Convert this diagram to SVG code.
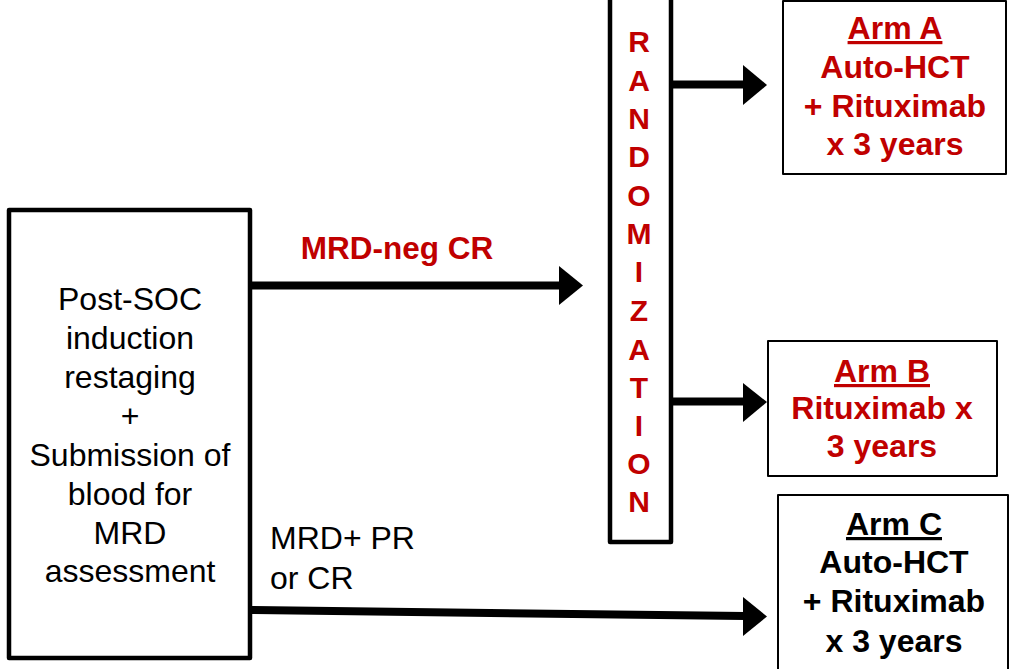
<svg xmlns="http://www.w3.org/2000/svg" width="1010" height="669" viewBox="0 0 1010 669">
<style>
.box{fill:#fff;stroke:#000;stroke-linejoin:round}
.thick{stroke-width:4.5}
.thin{stroke-width:2}
.t{font-family:"Liberation Sans",Arial,sans-serif;text-anchor:middle}
.n{font-size:32px;fill:#000}
.b{font-size:32px;font-weight:bold}
.red{fill:#C00000}
.blk{fill:#000}
.u{text-decoration:underline}
.shaft{stroke:#000;stroke-width:8;fill:none}
.head{fill:#000}
.rl{font-family:"Liberation Sans",Arial,sans-serif;font-size:30px;font-weight:bold;fill:#C00000;text-anchor:middle}
</style>
<rect width="1010" height="669" fill="#fff"/>
<g id="connectors">
<line class="shaft" x1="250" y1="285.5" x2="561" y2="285.5"/>
<polygon class="head" points="559,266 583,285.5 559,305"/>
<line class="shaft" x1="671" y1="84.5" x2="745" y2="84.5"/>
<polygon class="head" points="743,65 767,85 743,105"/>
<line class="shaft" x1="671" y1="401.5" x2="745" y2="401.5"/>
<polygon class="head" points="743,383 767,402 743,422"/>
<line class="shaft" x1="250" y1="610" x2="745" y2="616"/>
<polygon class="head" points="743,597 767,616.5 743,636"/>
</g>
<g id="label-mrdneg">
<text class="t b red" x="397" y="259" style="font-size:31.5px">MRD-neg CR</text>
</g>
<g id="label-mrdpos">
<text class="n" x="270" y="549" font-family="Liberation Sans, Arial, sans-serif">MRD+ PR</text>
<text class="n" x="270" y="589" font-family="Liberation Sans, Arial, sans-serif">or CR</text>
</g>
<g id="node-start">
<rect class="box thick" x="9" y="210" width="241" height="448"/>
<text class="t n" x="130" y="310">Post-SOC</text>
<text class="t n" x="130" y="349">induction</text>
<text class="t n" x="130" y="388">restaging</text>
<text class="t n" x="130" y="427">+</text>
<text class="t n" x="130" y="466">Submission of</text>
<text class="t n" x="130" y="505">blood for</text>
<text class="t n" x="130" y="544">MRD</text>
<text class="t n" x="130" y="582">assessment</text>
</g>
<g id="node-randomization">
<rect class="box thick" x="610" y="-10" width="61" height="552"/>
<text class="rl" x="639" y="52">R</text>
<text class="rl" x="639" y="91">A</text>
<text class="rl" x="639" y="129">N</text>
<text class="rl" x="639" y="167">D</text>
<text class="rl" x="639" y="206">O</text>
<text class="rl" x="639" y="244">M</text>
<text class="rl" x="639" y="282">I</text>
<text class="rl" x="639" y="321">Z</text>
<text class="rl" x="639" y="360">A</text>
<text class="rl" x="639" y="398">T</text>
<text class="rl" x="639" y="436">I</text>
<text class="rl" x="639" y="474">O</text>
<text class="rl" x="639" y="512">N</text>
</g>
<g id="node-armA">
<rect class="box thin" x="783" y="1" width="223" height="173"/>
<text class="t b red u" x="895" y="39">Arm A</text>
<text class="t b red" x="895" y="78">Auto-HCT</text>
<text class="t b red" x="895" y="117">+ Rituximab</text>
<text class="t b red" x="895" y="155">x 3 years</text>
</g>
<g id="node-armB">
<rect class="box thin" x="768" y="341" width="229" height="135"/>
<text class="t b red u" x="882" y="382">Arm B</text>
<text class="t b red" x="882" y="419">Rituximab x</text>
<text class="t b red" x="882" y="457">3 years</text>
</g>
<g id="node-armC">
<rect class="box thin" x="778" y="495" width="230" height="190"/>
<text class="t b blk u" x="894" y="535">Arm C</text>
<text class="t b blk" x="894" y="573">Auto-HCT</text>
<text class="t b blk" x="894" y="612">+ Rituximab</text>
<text class="t b blk" x="894" y="652">x 3 years</text>
</g>
</svg>
